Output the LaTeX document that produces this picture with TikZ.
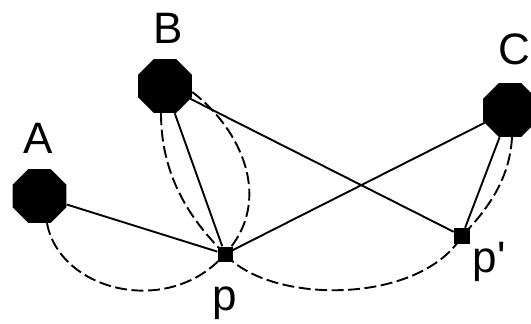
\documentclass[tikz,border=0pt]{standalone}
\usepackage{fontspec}
\setmainfont{Liberation Sans}
\usetikzlibrary{shapes.geometric}
\begin{document}
\begin{tikzpicture}[x=1pt,y=-1pt,
  oct/.style={regular polygon,regular polygon sides=8,minimum size=58.4pt,inner sep=0pt,fill=black},
  ptbox/.style={rectangle,minimum size=15pt,inner sep=0pt,fill=black},
  lab/.style={anchor=base,inner sep=0pt,font=\fontsize{44}{50}\selectfont},
  solidln/.style={line width=1.9pt},
  dashln/.style={line width=1.9pt,dash pattern=on 12pt off 4.5pt}]
\useasboundingbox (0,0) rectangle (531,324);
% vertices
\node[oct] (A) at (39.5,196) {};
\node[oct] (B) at (165,86) {};
\node[oct] (C) at (510,110) {};
\node[ptbox] (p) at (225,254) {};
\node[ptbox,minimum size=16pt] (pp) at (462,236) {};
% labels
\node[lab] (lA) at (38,153) {A};
\node[lab] (lB) at (168,43) {B};
\node[lab] (lC) at (514,64) {C};
\node[lab] (lp) at (225,310) {p};
\node[lab] (lpp) at (489,272) {p\textquotesingle};
% solid connectors
\draw[solidln] (A) -- (p);
\draw[solidln] (B) -- (p);
\draw[solidln] (B) -- (pp);
\draw[solidln] (C) -- (p);
\draw[solidln] (C) -- (pp);
% dashed connectors
\draw[dashln] ([xshift=7.5pt]A.south) .. controls (60,292) and (170,318) .. (p.center);
\draw[dashln] ([xshift=-4pt]B.south) .. controls (161,170) and (185,215) .. (p.center);
\draw[dashln] ([yshift=-6pt]B.east) .. controls (240,128) and (275,200) .. (p.center);
\draw[dashln] (p.center) .. controls (270,305) and (420,305) .. (pp.center);
\draw[dashln] ([xshift=2pt]C.south) .. controls (510,175) and (492,205) .. (pp.center);
\end{tikzpicture}
\end{document}
